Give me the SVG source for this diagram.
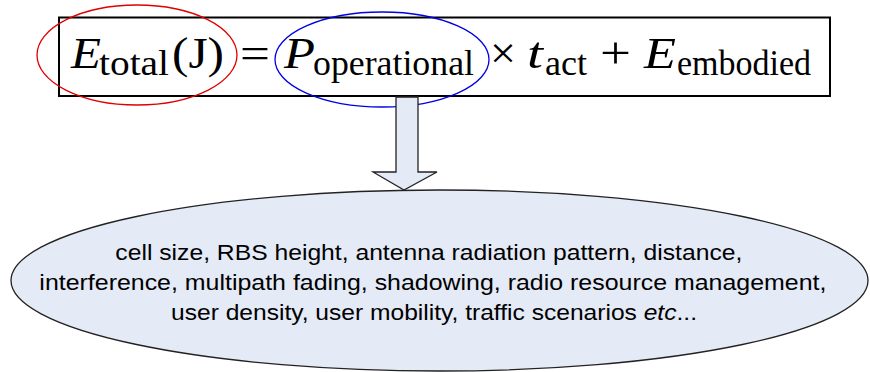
<svg xmlns="http://www.w3.org/2000/svg" width="870" height="372" viewBox="0 0 870 372">
  <style>
    .eq { font-family: "Liberation Serif", "DejaVu Serif", serif; fill: #000; }
    .it { font-style: italic; }
    .sub { font-size: 36px; }
    .body { font-family: "Liberation Sans", Arial, sans-serif; font-size: 22.5px; fill: #000; }
    .shape { fill: #e4eaf6; stroke: #222; stroke-width: 1.3; }
  </style>
  <rect width="870" height="372" fill="#fff"/>

  <!-- equation box -->
  <g id="equation">
    <rect x="59" y="17.5" width="771" height="78.5" fill="#fff" stroke="#000" stroke-width="2"/>
    <text class="eq" font-size="44">
      <tspan class="it" x="71" y="68" textLength="30" lengthAdjust="spacingAndGlyphs">E</tspan>
      <tspan class="sub" x="99" y="75" textLength="70" lengthAdjust="spacingAndGlyphs">total</tspan>
      <tspan x="172" y="68" textLength="52" lengthAdjust="spacingAndGlyphs">(J)</tspan>
      <tspan x="240" y="68" textLength="30" lengthAdjust="spacingAndGlyphs">=</tspan>
      <tspan class="it" x="284" y="68" textLength="31" lengthAdjust="spacingAndGlyphs">P</tspan>
      <tspan class="sub" x="313" y="75" textLength="161" lengthAdjust="spacingAndGlyphs">operational</tspan>
      <tspan x="490" y="68" textLength="26" lengthAdjust="spacingAndGlyphs">×</tspan>
      <tspan class="it" x="527" y="68" textLength="16" lengthAdjust="spacingAndGlyphs">t</tspan>
      <tspan class="sub" x="545" y="75" textLength="42" lengthAdjust="spacingAndGlyphs">act</tspan>
      <tspan x="600" y="68" textLength="31" lengthAdjust="spacingAndGlyphs">+</tspan>
      <tspan class="it" x="644" y="68" textLength="32" lengthAdjust="spacingAndGlyphs">E</tspan>
      <tspan class="sub" x="677" y="75" textLength="134" lengthAdjust="spacingAndGlyphs">embodied</tspan>
    </text>
  </g>

  <!-- highlight rings -->
  <g id="highlight-energy">
    <ellipse cx="137" cy="55" rx="100" ry="50" fill="none" stroke="#e00000" stroke-width="1.3"/>
  </g>
  <g id="highlight-power">
    <ellipse cx="382" cy="59.5" rx="107" ry="47.5" fill="none" stroke="#0000e6" stroke-width="1.3"/>
  </g>

  <!-- connector -->
  <g id="connectors">
    <polygon class="shape" points="396,97 418,97 418,172 437,172 404,190 373,172 396,172"/>
  </g>

  <!-- factors ellipse -->
  <g id="factors">
    <ellipse class="shape" cx="439.5" cy="280.5" rx="428.5" ry="90.5"/>
    <text class="body" text-anchor="middle">
      <tspan x="432" y="260" textLength="627" lengthAdjust="spacingAndGlyphs">cell size, RBS height, antenna radiation pattern, distance,</tspan>
      <tspan x="436" y="290" textLength="787" lengthAdjust="spacingAndGlyphs">interference, multipath fading, shadowing, radio resource management,</tspan>
      <tspan x="434" y="320" textLength="526" lengthAdjust="spacingAndGlyphs">user density, user mobility, traffic scenarios <tspan font-style="italic">etc</tspan>...</tspan>
    </text>
  </g>
</svg>
